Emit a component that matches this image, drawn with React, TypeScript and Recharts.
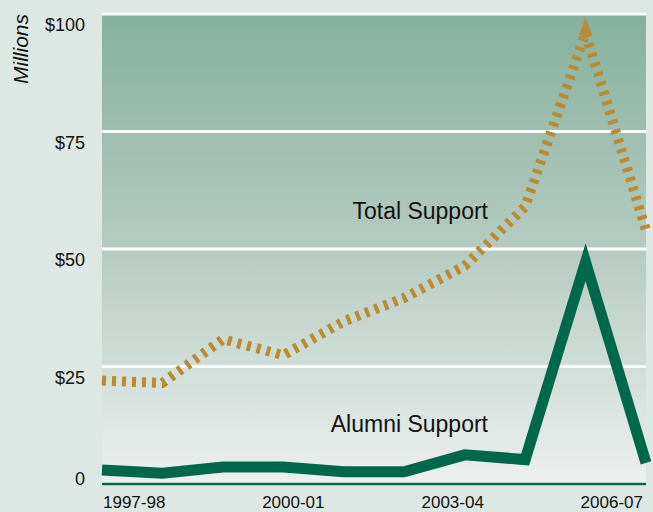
import React from 'react';
import { LineChart, Line, XAxis, YAxis, CartesianGrid } from 'recharts';

const categories = [
  '1997-98', '1998-99', '1999-00', '2000-01', '2001-02',
  '2002-03', '2003-04', '2004-05', '2005-06', '2006-07',
];
const totalSupport = [22, 21.5, 30.8, 27.4, 34.6, 39.6, 46.4, 59, 96, 54];
const alumniSupport = [3, 2.3, 3.6, 3.6, 2.6, 2.6, 6.2, 5.2, 47.2, 4.5];
const yTicks = [0, 25, 50, 75, 100];
const xTickLabels = ['1997-98', '2000-01', '2003-04', '2006-07'];

const data = categories.map((year, i) => ({
  year,
  total: totalSupport[i],
  alumni: alumniSupport[i],
}));

const FONT = '"Liberation Sans", Arial, Helvetica, sans-serif';
const GOLD = '#b88b34';
const GREEN = '#00684a';
const peakIndex = totalSupport.indexOf(Math.max(...totalSupport));

// labels sit justified across the axis, not exactly under their points
const xNudge = [1, 10, -12, -3];

function XTick(props: any) {
  const { x, y, payload } = props;
  const i = xTickLabels.indexOf(payload.value);
  const anchor = i === 0 ? 'start' : i === xTickLabels.length - 1 ? 'end' : 'middle';
  return (
    <text x={x + xNudge[i]} y={y + 16} textAnchor={anchor} fill="#111" fontSize={17} fontFamily={FONT}>
      {payload.value}
    </text>
  );
}

function YTick(props: any) {
  const { x, y, payload } = props;
  const v = payload.value;
  return (
    <text x={x - 9} y={y + (v === 0 ? 1 : 17)} textAnchor="end" fill="#111" fontSize={18} fontFamily={FONT}>
      {v === 0 ? '0' : `$${v}`}
    </text>
  );
}

function PeakDot(props: any) {
  const { cx, cy, index } = props;
  if (index !== peakIndex) return <g key={`d${index}`} />;
  return (
    <polygon
      key={`d${index}`}
      points={`${cx},${cy - 15} ${cx - 6.5},${cy + 2} ${cx + 6.5},${cy + 2}`}
      fill={GOLD}
    />
  );
}

export default function App() {
  return (
    <div style={{ position: 'absolute', left: 0, top: 0, width: 653, height: 512, background: '#dde7e3' }}>
      <LineChart width={653} height={512} data={data} margin={{ top: 14, right: 7, left: 0, bottom: 0 }}>
        <defs>
          <linearGradient id="plotBg" x1="0" y1="0" x2="0" y2="1">
            <stop offset="0%" stopColor="#85b09e" />
            <stop offset="50%" stopColor="#b5cbc1" />
            <stop offset="100%" stopColor="#edf0ef" />
          </linearGradient>
        </defs>
        <CartesianGrid vertical={false} stroke="#ffffff" strokeWidth={3} fill="url(#plotBg)" fillOpacity={1} />
        <XAxis
          dataKey="year"
          ticks={xTickLabels}
          interval={0}
          height={28}
          tickLine={false}
          axisLine={{ stroke: GREEN, strokeWidth: 2.5 }}
          tick={<XTick />}
        />
        <YAxis
          domain={[0, 100]}
          ticks={yTicks}
          width={102}
          axisLine={false}
          tickLine={false}
          tick={<YTick />}
        />
        <Line
          dataKey="total"
          type="linear"
          stroke={GOLD}
          strokeWidth={10}
          strokeDasharray="4 6"
          strokeLinejoin="miter"
          dot={PeakDot}
          activeDot={false}
          isAnimationActive={false}
        />
        <Line
          dataKey="alumni"
          type="linear"
          stroke={GREEN}
          strokeWidth={11}
          strokeLinejoin="miter"
          dot={false}
          activeDot={false}
          isAnimationActive={false}
        />
        <text x={488} y={219} textAnchor="end" fontSize={23} fontFamily={FONT} fill="#111">
          Total Support
        </text>
        <text x={488} y={432} textAnchor="end" fontSize={23} fontFamily={FONT} fill="#111">
          Alumni Support
        </text>
        <text
          x={28}
          y={49}
          transform="rotate(-90, 28, 49)"
          textAnchor="middle"
          fontSize={21}
          fontStyle="italic"
          fontFamily={FONT}
          fill="#111"
        >
          Millions
        </text>
      </LineChart>
    </div>
  );
}
